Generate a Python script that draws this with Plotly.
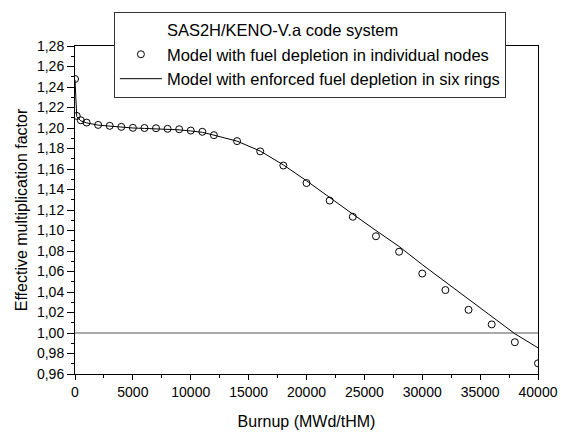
import plotly.graph_objects as go

# Burnup steps (MWd/tHM)
burnup = [0, 150, 500, 1000, 2000, 3000, 4000, 5000, 6000, 7000, 8000, 9000,
          10000, 11000, 12000, 14000, 16000, 18000, 20000, 22000, 24000, 26000,
          28000, 30000, 32000, 34000, 36000, 38000, 40000]

# k-eff, fuel depletion tracked in individual nodes
k_nodes = [1.2478, 1.2118, 1.2075, 1.2053, 1.2030, 1.2021, 1.2011, 1.2002,
           1.2000, 1.1998, 1.1992, 1.1988, 1.1975, 1.1963, 1.1930, 1.1872,
           1.1772, 1.1634, 1.1463, 1.1292, 1.1134, 1.0944, 1.0793, 1.0580,
           1.0419, 1.0226, 1.0084, 0.9910, 0.9704]

# k-eff, fuel depletion enforced in six rings
k_rings = [1.2470, 1.2110, 1.2070, 1.2050, 1.2028, 1.2018, 1.2008, 1.2000,
           1.1996, 1.1992, 1.1988, 1.1982, 1.1971, 1.1958, 1.1930, 1.1872,
           1.1775, 1.1640, 1.1485, 1.1318, 1.1160, 1.1000, 1.0844, 1.0667,
           1.0500, 1.0330, 1.0162, 0.9993, 0.9855]

y_tick_vals = [0.96, 0.98, 1.00, 1.02, 1.04, 1.06, 1.08, 1.10, 1.12, 1.14,
               1.16, 1.18, 1.20, 1.22, 1.24, 1.26, 1.28]
y_tick_text = ["0,96", "0,98", "1,00", "1,02", "1,04", "1,06", "1,08", "1,10",
               "1,12", "1,14", "1,16", "1,18", "1,20", "1,22", "1,24", "1,26",
               "1,28"]
x_tick_vals = [0, 5000, 10000, 15000, 20000, 25000, 30000, 35000, 40000]
x_tick_text = ["0", "5000", "10000", "15000", "20000", "25000", "30000",
               "35000", "40000"]

FONT = "Liberation Sans, Arial, sans-serif"

fig = go.Figure()

# header line of the key (no symbol)
fig.add_trace(go.Scatter(
    x=[None], y=[None], mode="lines", name="SAS2H/KENO-V.a code system",
    line=dict(color="rgba(0,0,0,0)", width=0), legendgroup="a",
    hoverinfo="skip"))

fig.add_trace(go.Scatter(
    x=burnup, y=k_nodes, mode="markers",
    name="Model with fuel depletion in individual nodes",
    marker=dict(symbol="circle-open", size=7, color="black",
                line=dict(width=1, color="black")),
    legendgroup="b"))

fig.add_trace(go.Scatter(
    x=burnup, y=k_rings, mode="lines",
    name="Model with enforced fuel depletion in six rings",
    line=dict(color="black", width=1),
    legendgroup="c"))

# criticality reference k = 1
fig.add_shape(type="line", xref="paper", x0=0, x1=1, yref="y", y0=1.0, y1=1.0,
              line=dict(color="#555555", width=1), layer="below")

fig.update_layout(
    width=561, height=438,
    margin=dict(l=75, r=23, t=43, b=64),
    paper_bgcolor="white", plot_bgcolor="white",
    font=dict(family=FONT, size=14, color="black"),
    showlegend=True,
    legend=dict(
        x=0.084, y=1.105, xanchor="left", yanchor="top",
        bgcolor="white", bordercolor="#333333", borderwidth=1,
        font=dict(family=FONT, size=16.5, color="black"),
        itemwidth=42, tracegroupgap=3, traceorder="normal",
    ),
    xaxis=dict(
        range=[0, 40000], tickvals=x_tick_vals, ticktext=x_tick_text,
        showline=True, linecolor="black", linewidth=1, mirror=True,
        ticks="outside", ticklen=5, tickcolor="black",
        minor=dict(dtick=2500, ticks="outside", ticklen=3, tickcolor="black"),
        showgrid=False, zeroline=False, automargin=False,
        title=dict(text="Burnup (MWd/tHM)", standoff=17,
                   font=dict(family=FONT, size=16)),
    ),
    yaxis=dict(
        range=[0.96, 1.28], tickvals=y_tick_vals, ticktext=y_tick_text,
        showline=True, linecolor="black", linewidth=1, mirror=True,
        ticks="outside", ticklen=7, tickcolor="black",
        minor=dict(dtick=0.01, tick0=0.96, ticks="outside", ticklen=3,
                   tickcolor="black"),
        showgrid=False, zeroline=False, automargin=False,
        title=dict(text="Effective multiplication factor", standoff=5,
                   font=dict(family=FONT, size=16)),
    ),
)

fig.write_html("out.html")
